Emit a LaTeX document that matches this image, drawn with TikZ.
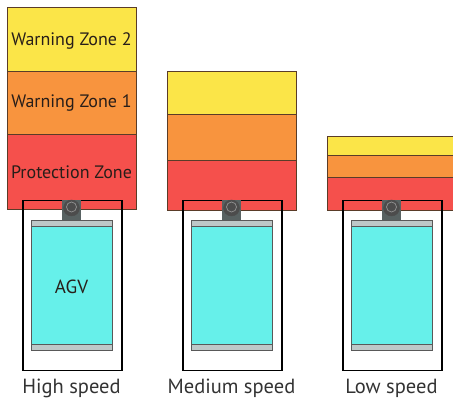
\documentclass[tikz,border=0pt]{standalone}
\usepackage{fontspec}
\setmainfont{PT Sans}
\definecolor{zy}{RGB}{251,229,72}
\definecolor{zo}{RGB}{248,148,62}
\definecolor{zr}{RGB}{245,80,76}
\definecolor{zline}{RGB}{90,60,40}
\definecolor{agvc}{RGB}{102,240,234}
\definecolor{strip}{RGB}{190,200,200}
\definecolor{sens}{RGB}{88,98,98}
\definecolor{txt}{RGB}{40,30,25}
\tikzset{
  zone/.style={draw=zline, line width=0.7pt, inner sep=0pt, anchor=north west},
  zlabel/.style={font=\fontsize{18}{19}\selectfont, text=txt},
  frame/.style={draw=black, line width=1.5pt, inner sep=0pt, anchor=north west},
  stripbox/.style={draw=gray!70!black, fill=strip, line width=0.5pt, inner sep=0pt, anchor=north west},
  bodybox/.style={draw=gray!70!black, fill=agvc, line width=0.5pt, inner sep=0pt, anchor=north west},
  sensbox/.style={fill=sens, inner sep=0pt, anchor=north west},
  speed/.style={font=\fontsize{20.5}{22}\selectfont, text=black!80},
}
\begin{document}
\begin{tikzpicture}[x=1pt,y=-1pt]
\useasboundingbox (0,0) rectangle (453,403);
\clip (0,0) rectangle (453,403);
% zones column 1
\node[zone, fill=zy, minimum width=129pt, minimum height=64pt] (h2) at (7,7) {};
\node[zone, fill=zo, minimum width=129pt, minimum height=63pt] (h1) at (7,71) {};
\node[zone, fill=zr, minimum width=129pt, minimum height=75pt] (hp) at (7,134) {};
\node[zlabel] (h2t) at (71.5,41) {Warning Zone 2};
\node[zlabel] (h1t) at (71.5,103) {Warning Zone 1};
\node[zlabel] (hpt) at (71.5,172) {Protection Zone};
% zones column 2
\node[zone, fill=zy, minimum width=129pt, minimum height=43pt] (m2) at (167,71) {};
\node[zone, fill=zo, minimum width=129pt, minimum height=46pt] (m1) at (167,114) {};
\node[zone, fill=zr, minimum width=129pt, minimum height=50pt] (mp) at (167,160) {};
% zones column 3
\node[zone, fill=zy, minimum width=132pt, minimum height=19pt] (l2) at (327,136) {};
\node[zone, fill=zo, minimum width=132pt, minimum height=22pt] (l1) at (327,155) {};
\node[zone, fill=zr, minimum width=132pt, minimum height=33pt] (lp) at (327,177) {};
% AGVs
\foreach \ox/\nm/\lab in {0/h/High speed, 160/m/Medium speed, 320/l/Low speed}{
  \node[frame, minimum width=99pt, minimum height=170pt] (\nm frame) at (22+\ox,200) {};
  \node[stripbox, minimum width=81pt, minimum height=130pt] (\nm base) at (31+\ox,220) {};
  \node[bodybox, minimum width=81pt, minimum height=118pt] (\nm body) at (31+\ox,226) {};
  \node[sensbox, minimum width=19pt, minimum height=20pt] (\nm sens) at (62+\ox,200) {};
  \node[circle, inner sep=0pt, minimum size=16pt, fill=gray!60!black, draw=black!70, line width=0.4pt] (\nm eye) at (71.5+\ox,208) {};
  \node[circle, inner sep=0pt, minimum size=10pt, draw=gray!85, line width=0.7pt] (\nm lens) at (71.5+\ox,207) {};
  \node[speed] (\nm lab) at (71.5+\ox,388) {\lab};
}
\node[font=\fontsize{19}{20}\selectfont, text=txt] (agv) at (71.5,287) {AGV};
\end{tikzpicture}
\end{document}
